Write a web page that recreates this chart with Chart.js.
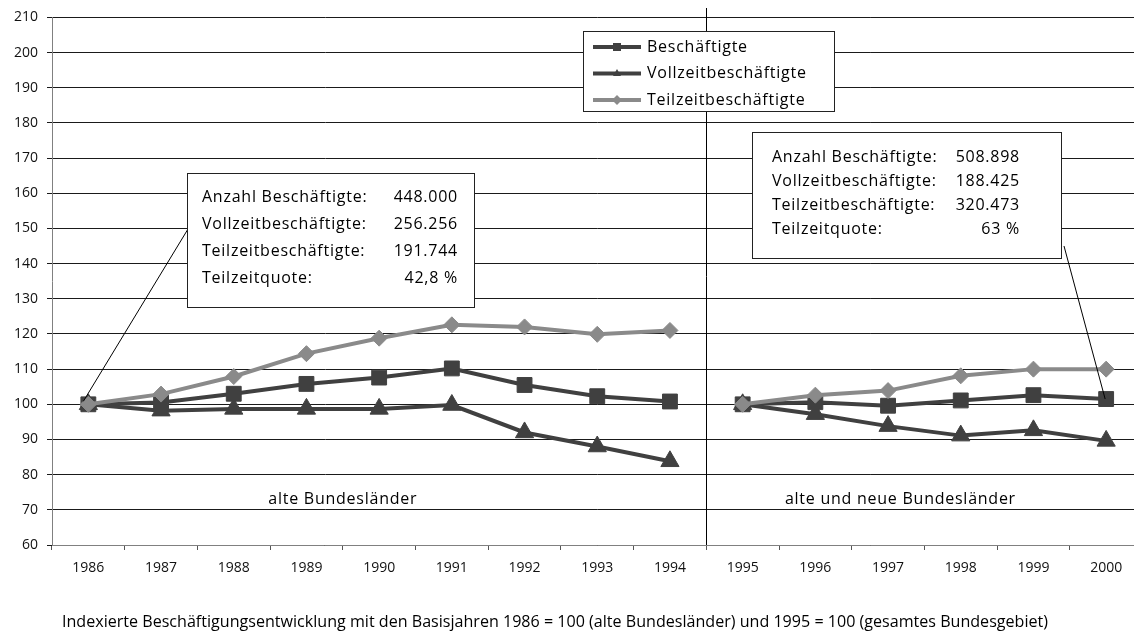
<!DOCTYPE html>
<html lang="de">
<head>
    <meta charset="UTF-8">
    <title>Beschäftigungsentwicklung</title>
    <script src="https://cdn.jsdelivr.net/npm/chart.js@4.4.1/dist/chart.umd.min.js"></script>
    <style>
        html, body { margin: 0; padding: 0; overflow: hidden; background: #fff; }
    </style>
</head>
<body>
    <canvas id="myChart" width="1154" height="635"></canvas>
<script>
    // Daten (Index: 1986 = 100 bzw. 1995 = 100)
    const years = ['1986', '1987', '1988', '1989', '1990', '1991', '1992', '1993', '1994',
                   '1995', '1996', '1997', '1998', '1999', '2000'];
    const beschaeftigte = [100, 100.5, 103, 105.8, 107.6, 110.2, 105.5, 102.3, 100.8,
                           100, 100.6, 99.6, 101.1, 102.6, 101.5];
    const vollzeit = [100, 98.2, 98.7, 98.7, 98.7, 99.8, 92, 88, 83.8,
                      100, 97.2, 93.8, 91.1, 92.6, 89.6];
    const teilzeit = [100, 102.9, 107.9, 114.4, 118.8, 122.6, 122, 119.9, 121,
                      100, 102.6, 103.9, 108.1, 110, 110];
    const yTicks = [60, 70, 80, 90, 100, 110, 120, 130, 140, 150, 160, 170, 180, 190, 200, 210];
    const breakAfter = 8; // keine Verbindung zwischen 1994 und 1995

    const boxLeft = [
        ['Anzahl Beschäftigte:', '448.000'],
        ['Vollzeitbeschäftigte:', '256.256'],
        ['Teilzeitbeschäftigte:', '191.744'],
        ['Teilzeitquote:', '42,8 %']
    ];
    const boxRight = [
        ['Anzahl Beschäftigte:', '508.898'],
        ['Vollzeitbeschäftigte:', '188.425'],
        ['Teilzeitbeschäftigte:', '320.473'],
        ['Teilzeitquote:', '63 %']
    ];
    const caption = 'Indexierte Beschäftigungsentwicklung mit den Basisjahren 1986 = 100 (alte Bundesländer) und 1995 = 100 (gesamtes Bundesgebiet)';

    const FONT = '"Open Sans", "DejaVu Sans", sans-serif';
    const DARK = '#404040';
    const LIGHT = '#8a8a8a';

    const gap = ctx => ctx.p0DataIndex === breakAfter ? 'rgba(0,0,0,0)' : undefined;

    function marker(ctx, style, x, y, r, color) {
        ctx.fillStyle = color;
        ctx.beginPath();
        if (style === 'rect') {
            ctx.rect(x - r, y - r, 2 * r, 2 * r);
        } else if (style === 'triangle') {
            ctx.moveTo(x, y - r * 1.1);
            ctx.lineTo(x + r, y + r * 0.6);
            ctx.lineTo(x - r, y + r * 0.6);
            ctx.closePath();
        } else {
            ctx.moveTo(x, y - r);
            ctx.lineTo(x + r, y);
            ctx.lineTo(x, y + r);
            ctx.lineTo(x - r, y);
            ctx.closePath();
        }
        ctx.fill();
    }

    function textBox(ctx, x, y, w, h, rows, textX, valRight, firstY, step) {
        ctx.fillStyle = '#fff';
        ctx.fillRect(x, y, w, h);
        ctx.strokeStyle = '#222';
        ctx.lineWidth = 1;
        ctx.strokeRect(x + 0.5, y + 0.5, w, h);
        ctx.fillStyle = '#000';
        ctx.font = '16px ' + FONT;
        ctx.letterSpacing = '0.75px';
        ctx.textBaseline = 'middle';
        rows.forEach((r, i) => {
            ctx.textAlign = 'left';
            ctx.fillText(r[0], textX, firstY + i * step);
            ctx.textAlign = 'right';
            ctx.fillText(r[1], valRight, firstY + i * step);
        });
    }

    const extras = {
        id: 'extras',
        afterDatasetsDraw(chart) {
            const ctx = chart.ctx;
            const xs = chart.scales.x;
            const ys = chart.scales.y;
            const area = chart.chartArea;
            ctx.save();

            // Trennlinie zwischen 1994 und 1995
            const sepX = Math.round((xs.getPixelForValue(breakAfter) + xs.getPixelForValue(breakAfter + 1)) / 2) + 0.5;
            ctx.strokeStyle = '#000';
            ctx.lineWidth = 1;
            ctx.beginPath();
            ctx.moveTo(sepX, 8);
            ctx.lineTo(sepX, area.bottom);
            ctx.stroke();

            // Gebietsbeschriftungen
            ctx.fillStyle = '#000';
            ctx.font = '16px ' + FONT;
            ctx.letterSpacing = '0.75px';
            ctx.textAlign = 'center';
            ctx.textBaseline = 'middle';
            ctx.fillText('alte Bundesländer', xs.getPixelForValue(3.5), ys.getPixelForValue(73));
            ctx.fillText('alte und neue Bundesländer', xs.getPixelForValue(11.17), ys.getPixelForValue(73));

            // Verbindungslinien zu den Textkästen
            ctx.strokeStyle = '#000';
            ctx.lineWidth = 1;
            ctx.beginPath();
            ctx.moveTo(188, 229);
            ctx.lineTo(xs.getPixelForValue(0) - 5, ys.getPixelForValue(beschaeftigte[0]) - 3);
            ctx.moveTo(1064, 246);
            ctx.lineTo(xs.getPixelForValue(years.length - 1) - 1, ys.getPixelForValue(beschaeftigte[years.length - 1]));
            ctx.stroke();

            // Textkästen
            textBox(ctx, 187, 173, 287, 134, boxLeft, 202, 458, 197, 27);
            textBox(ctx, 752, 132, 309, 126, boxRight, 772, 1020, 157, 24);

            // Legende
            ctx.fillStyle = '#fff';
            ctx.fillRect(583, 31, 251, 80);
            ctx.strokeStyle = '#222';
            ctx.lineWidth = 1;
            ctx.strokeRect(583.5, 31.5, 251, 80);
            const leg = [
                ['Beschäftigte', DARK, 'rect'],
                ['Vollzeitbeschäftigte', DARK, 'triangle'],
                ['Teilzeitbeschäftigte', LIGHT, 'rectRot']
            ];
            leg.forEach((l, i) => {
                const y = 47 + i * 26.5;
                ctx.strokeStyle = l[1];
                ctx.lineWidth = 4;
                ctx.beginPath();
                ctx.moveTo(593, y);
                ctx.lineTo(641, y);
                ctx.stroke();
                marker(ctx, l[2], 617, y, l[2] === 'rectRot' ? 5 : 4, l[1]);
                ctx.fillStyle = '#000';
                ctx.font = '16px ' + FONT;
                ctx.letterSpacing = '0.75px';
                ctx.textAlign = 'left';
                ctx.textBaseline = 'middle';
                ctx.fillText(l[0], 647, y);
            });

            // Bildunterschrift, schmal gesetzt wie im Original
            ctx.fillStyle = '#000';
            ctx.font = '16px ' + FONT;
            ctx.letterSpacing = '0px';
            ctx.textAlign = 'left';
            ctx.textBaseline = 'middle';
            const w = ctx.measureText(caption).width;
            ctx.translate(62, 622);
            ctx.scale(986 / w, 1);
            ctx.fillText(caption, 0, 0);
            ctx.restore();
        }
    };

    new Chart(document.getElementById('myChart').getContext('2d'), {
        type: 'line',
        data: {
            labels: years,
            datasets: [{
                label: 'Beschäftigte',
                data: beschaeftigte,
                borderColor: DARK,
                backgroundColor: DARK,
                borderWidth: 4,
                pointStyle: 'rect',
                pointRadius: 10.5,
                pointBorderWidth: 1,
                segment: { borderColor: gap },
                order: 2
            }, {
                label: 'Vollzeitbeschäftigte',
                data: vollzeit,
                borderColor: DARK,
                backgroundColor: DARK,
                borderWidth: 4,
                pointStyle: 'triangle',
                pointRadius: 10.5,
                pointBorderWidth: 1,
                segment: { borderColor: gap },
                order: 3
            }, {
                label: 'Teilzeitbeschäftigte',
                data: teilzeit,
                borderColor: LIGHT,
                backgroundColor: LIGHT,
                borderWidth: 4,
                pointStyle: 'rectRot',
                pointRadius: 8,
                pointBorderWidth: 1,
                segment: { borderColor: gap },
                order: 1
            }]
        },
        options: {
            responsive: false,
            animation: false,
            devicePixelRatio: 1,
            layout: { padding: { top: 15, left: 0, right: 0, bottom: 0 } },
            plugins: {
                legend: { display: false },
                tooltip: { enabled: false }
            },
            elements: { line: { tension: 0 } },
            scales: {
                x: {
                    offset: true,
                    grid: {
                        offset: true,
                        drawOnChartArea: false,
                        drawTicks: true,
                        tickLength: 5,
                        color: '#555'
                    },
                    border: { color: '#808080', width: 1 },
                    ticks: {
                        color: '#111',
                        font: { family: FONT, size: 14 },
                        padding: 10,
                        maxRotation: 0,
                        autoSkip: false
                    },
                    afterFit(scale) { scale.height = 90; }
                },
                y: {
                    min: 60,
                    max: 210,
                    afterBuildTicks(scale) { scale.ticks = yTicks.map(v => ({ value: v })); },
                    grid: {
                        color: '#1a1a1a',
                        lineWidth: 1,
                        drawTicks: true,
                        tickLength: 5
                    },
                    border: { color: '#808080', width: 1 },
                    ticks: {
                        color: '#111',
                        font: { family: FONT, size: 14 },
                        padding: 9
                    },
                    afterFit(scale) { scale.width = 52; }
                }
            }
        },
        plugins: [extras]
    });
</script>
</body>
</html>
